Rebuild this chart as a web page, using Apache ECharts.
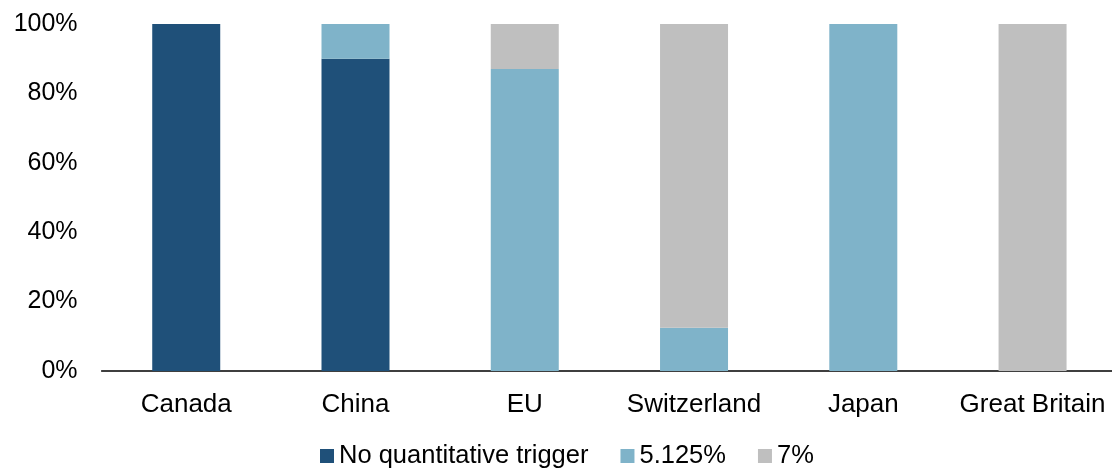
<!DOCTYPE html>
<html><head><meta charset="utf-8">
<script src="https://cdn.jsdelivr.net/npm/echarts@6/dist/echarts.min.js"></script>
<style>html,body{margin:0;padding:0;background:#fff}#c{width:1112px;height:471px}</style>
</head><body><div id="c"></div>
<script>
const categories = ['Canada', 'China', 'EU', 'Switzerland', 'Japan', 'Great Britain'];
const seriesNames = ['No quantitative trigger', '5.125%', '7%'];
const noTrigger = [100, 90, 0, 0, 0, 0];
const rate5125 = [0, 10, 87, 12.5, 100, 0];
const rate7 = [0, 0, 13, 87.5, 0, 100];
const colors = ['#1F5079', '#7FB3C9', '#BFBFBF'];

const font = '"Liberation Sans", Arial, sans-serif';
const chart = echarts.init(document.getElementById('c'));
const data = [noTrigger, rate5125, rate7];
chart.setOption({
  animation: false,
  color: colors,
  grid: { left: 101.6, width: 1015.6, top: 24, bottom: 100, containLabel: false, outerBoundsMode: 'none' },
  legend: {
    left: 320, top: 443, padding: 0,
    itemWidth: 14, itemHeight: 14, itemGap: 32,
    icon: 'rect',
    textStyle: { fontFamily: font, fontSize: 25.5, color: '#000' },
    data: seriesNames
  },
  xAxis: {
    type: 'category', data: categories,
    axisLine: { lineStyle: { color: '#000', width: 1.5 } },
    axisTick: { show: false },
    axisLabel: { fontFamily: font, fontSize: 26, color: '#000', margin: 21, interval: 0 }
  },
  yAxis: {
    type: 'value', min: 0, max: 100, interval: 20,
    splitLine: { show: false },
    axisLine: { show: false },
    axisLabel: { fontFamily: font, fontSize: 25, color: '#000', margin: 24, formatter: '{value}%' }
  },
  series: seriesNames.map((n, i) => ({
    name: n, type: 'bar', stack: 'total', barWidth: 68,
    data: data[i]
  }))
});
</script></body></html>
